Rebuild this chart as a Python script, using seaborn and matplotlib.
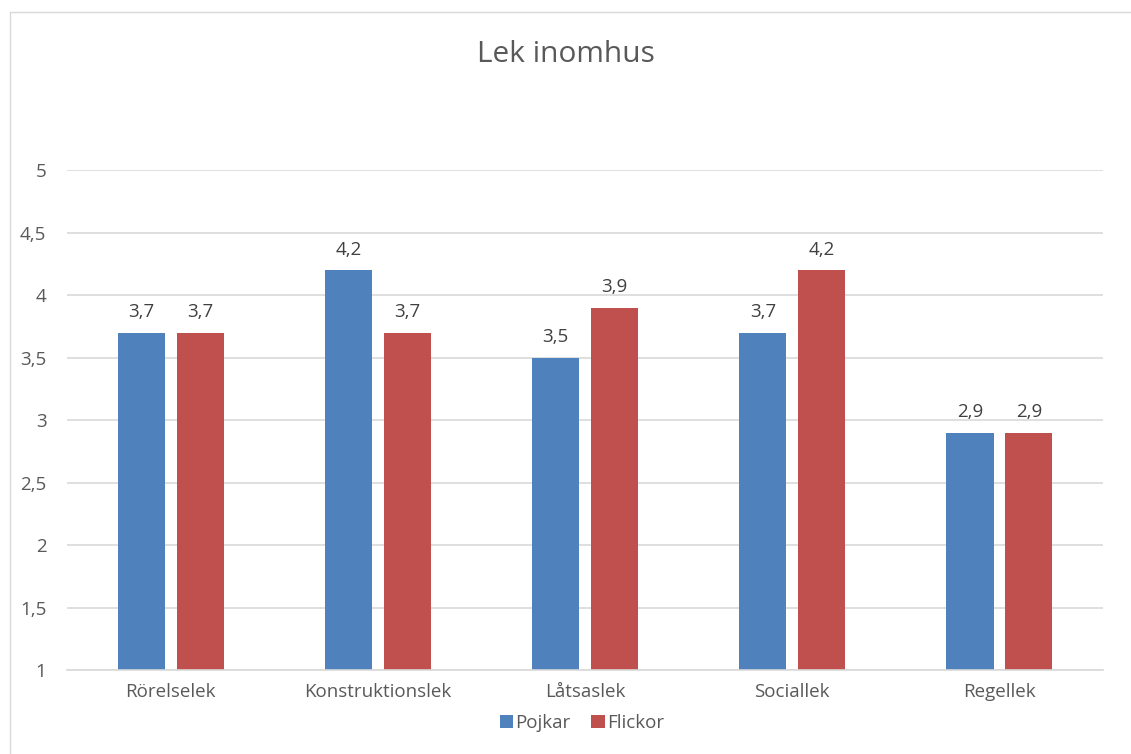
import numpy as np
import pandas as pd
import seaborn as sns
import matplotlib.pyplot as plt
from matplotlib.patches import Rectangle

categories = ['Rörelselek', 'Konstruktionslek', 'Låtsaslek', 'Sociallek', 'Regellek']
pojkar = [3.7, 4.2, 3.5, 3.7, 2.9]
flickor = [3.7, 3.7, 3.9, 4.2, 2.9]
series = ['Pojkar', 'Flickor']
colors = ['#4F81BD', '#C0504D']

df = pd.DataFrame({
    'kategori': categories * 2,
    'grupp': ['Pojkar'] * len(categories) + ['Flickor'] * len(categories),
    'varde': pojkar + flickor,
})

sns.set_theme(style='white')
plt.rcParams['font.family'] = ['Open Sans', 'DejaVu Sans']

fig = plt.figure(figsize=(11.31, 7.54), dpi=100)
ax = fig.add_axes([0.0595, 0.1114, 0.9157, 0.6631])

# chart area border
fig.patches.append(Rectangle((10 / 1131, -0.01), 1.02, 1 - 12 / 754 + 0.01,
                             transform=fig.transFigure, fill=False,
                             edgecolor='#D9D9D9', linewidth=1))

sns.barplot(data=df, x='kategori', y='varde', hue='grupp', hue_order=series,
            palette=colors, width=0.568, gap=0.2, ax=ax, saturation=1, linewidth=0)

fs = 13.5
# value labels with decimal comma
for cont in ax.containers:
    ax.bar_label(cont, labels=[f'{v:.1f}'.replace('.', ',') for v in cont.datavalues],
                 padding=8, fontsize=fs, color='#404040')

ax.set_ylim(1, 5)
ax.set_xlim(-0.5, 4.5)
ticks = np.arange(1, 5.01, 0.5)
ax.set_yticks(ticks)
ax.set_yticklabels([f'{t:g}'.replace('.', ',') for t in ticks], fontsize=fs, color='#595959')
ax.tick_params(axis='x', labelsize=fs, labelcolor='#595959', length=0, pad=9)
ax.tick_params(axis='y', length=0, pad=15)
ax.yaxis.grid(True, color='#D9D9D9', linewidth=1.2)
ax.set_axisbelow(True)
for s in ['top', 'right', 'left']:
    ax.spines[s].set_visible(False)
ax.spines['bottom'].set_color('#D9D9D9')
ax.spines['bottom'].set_linewidth(1.2)
ax.set_xlabel('')
ax.set_ylabel('')

ax.legend(loc='upper center', bbox_to_anchor=(0.497, -0.055), ncol=2, frameon=False,
          fontsize=fs, handlelength=0.7, handleheight=0.7, handletextpad=0.15,
          columnspacing=1.1, labelcolor='#595959')

fig.text(0.5, 1 - 55 / 754, 'Lek inomhus', ha='center', va='center',
         fontsize=21.5, color='#595959')

fig.savefig('out.png', dpi=100)
